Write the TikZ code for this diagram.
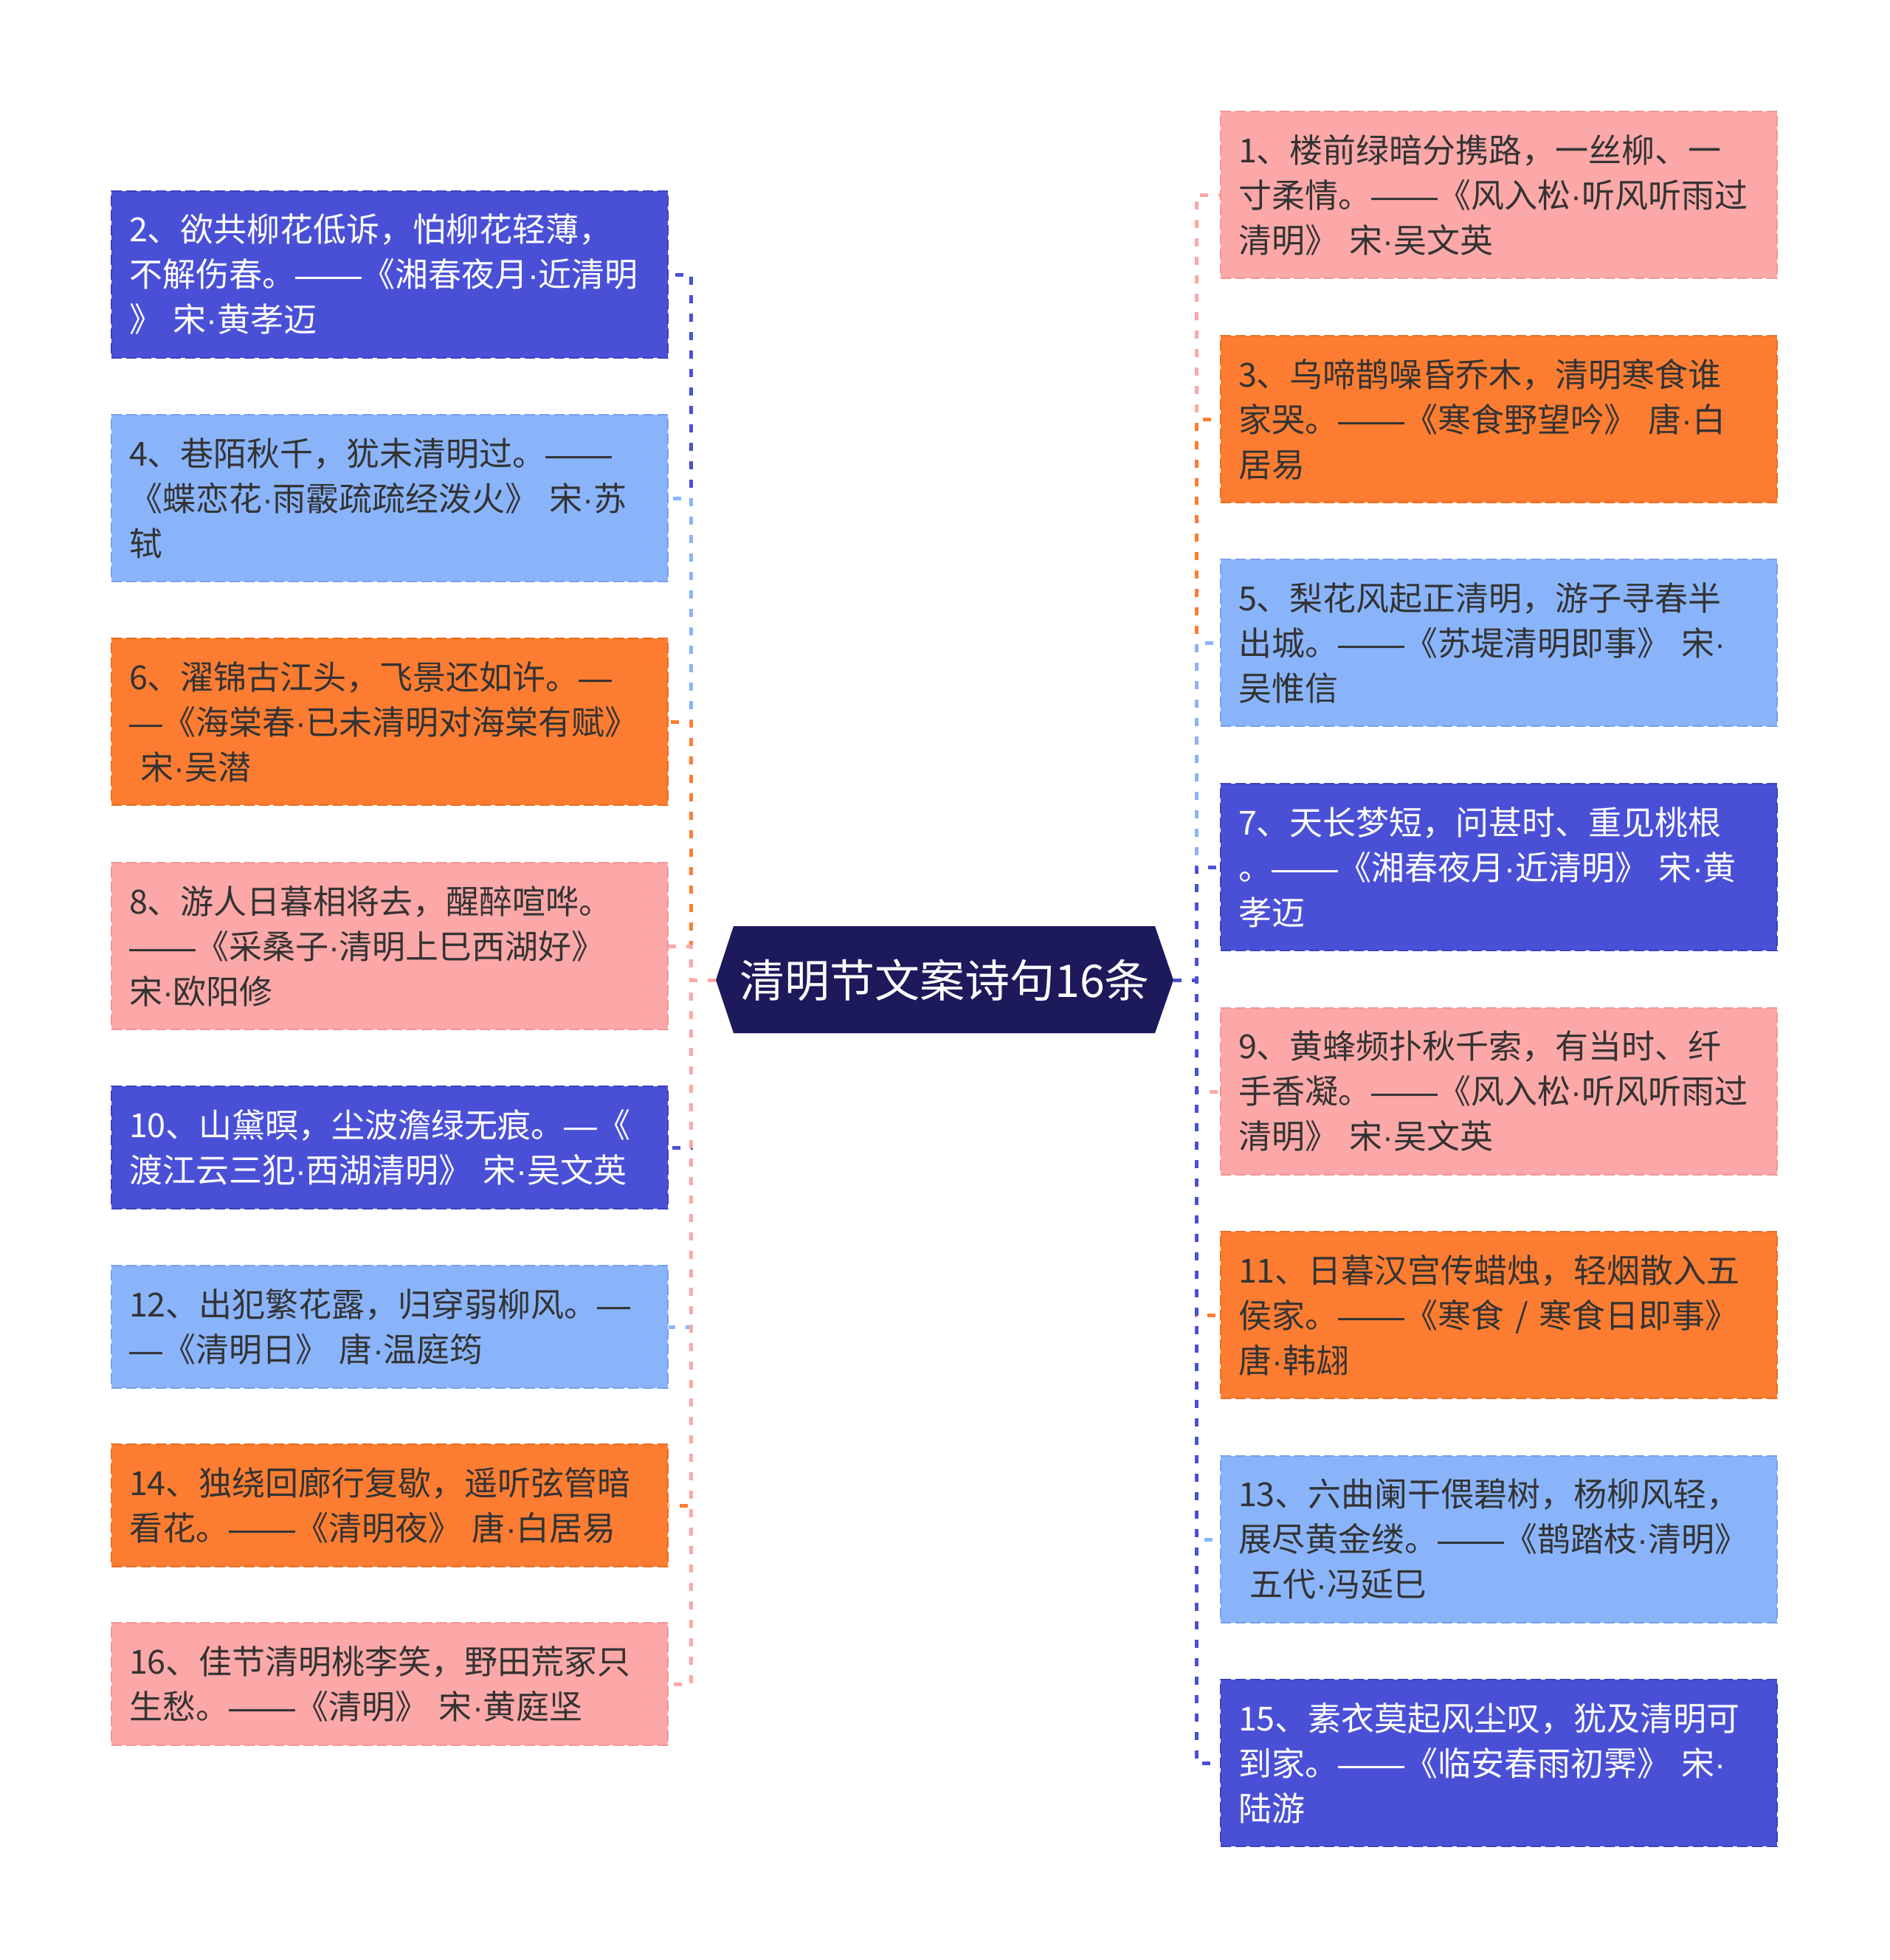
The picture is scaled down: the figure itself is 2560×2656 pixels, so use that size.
\documentclass[tikz,border=0pt]{standalone}
\usepackage{fontspec}
\newfontfamily\cjk{Noto Sans CJK SC}
\newfontfamily\latf{Liberation Sans}
\newcommand\zdot{{\latf ·}}
\newcommand\zdash{{\latf —}}
\definecolor{cpink}{RGB}{252,168,168}
\definecolor{cpinkd}{RGB}{240,150,150}
\definecolor{corange}{RGB}{252,125,50}
\definecolor{coranged}{RGB}{235,110,35}
\definecolor{clblue}{RGB}{138,180,250}
\definecolor{clblued}{RGB}{120,160,235}
\definecolor{cdblue}{RGB}{74,80,214}
\definecolor{cdblued}{RGB}{60,65,190}
\definecolor{cnavy}{RGB}{28,26,90}
\definecolor{ctext}{RGB}{51,51,51}
\begin{document}
\begin{tikzpicture}[x=0.5pt, y=-0.5pt,
 box/.style={rectangle, anchor=center, minimum width=377pt, inner xsep=12pt, inner ysep=0pt, text width=353pt, align=left, font=\cjk\fontsize{22.5pt}{30.5pt}\selectfont, line width=1pt, dash pattern=on 7pt off 3pt},
 tall/.style={minimum height=113pt},
 short/.style={minimum height=83pt},
 pinkb/.style={box, fill=cpink, draw=cpinkd, text=ctext},
 orangeb/.style={box, fill=corange, draw=coranged, text=ctext},
 lblueb/.style={box, fill=clblue, draw=clblued, text=ctext},
 dblueb/.style={box, fill=cdblue, draw=cdblued, text=white},
 conn/.style={line width=2.5pt, dash pattern=on 5.5pt off 7pt},
]
\useasboundingbox (0,0) rectangle (2560,2656);
% central node
\fill[cnavy] (970,1328) -- (994,1255) -- (1565,1255) -- (1590,1328) -- (1565,1400) -- (994,1400) -- cycle;
\node[minimum width=310pt, minimum height=72.5pt, inner sep=0pt, text=white, font=\cjk\fontsize{30.5pt}{36pt}\selectfont] (root) at (1280,1328) {清明节文案诗句16条};

% right boxes
\node[pinkb, tall] (b1) at (2031,264) {1、楼前绿暗分携路，一丝柳、一\\寸柔情。\zdash\zdash《风入松\zdot 听风听雨过\\清明》 宋\zdot 吴文英};
\node[orangeb, tall] (b3) at (2031,568) {3、乌啼鹊噪昏乔木，清明寒食谁\\家哭。\zdash\zdash《寒食野望吟》 唐\zdot 白\\居易};
\node[lblueb, tall] (b5) at (2031,871) {5、梨花风起正清明，游子寻春半\\出城。\zdash\zdash《苏堤清明即事》 宋\zdot\\吴惟信};
\node[dblueb, tall] (b7) at (2031,1175) {7、天长梦短，问甚时、重见桃根\\。\zdash\zdash《湘春夜月\zdot 近清明》 宋\zdot 黄\\孝迈};
\node[pinkb, tall] (b9) at (2031,1479) {9、黄蜂频扑秋千索，有当时、纤\\手香凝。\zdash\zdash《风入松\zdot 听风听雨过\\清明》 宋\zdot 吴文英};
\node[orangeb, tall] (b11) at (2031,1782) {11、日暮汉宫传蜡烛，轻烟散入五\\侯家。\zdash\zdash《寒食 / 寒食日即事》\\唐\zdot 韩翃};
\node[lblueb, tall] (b13) at (2031,2086) {13、六曲阑干偎碧树，杨柳风轻，\\展尽黄金缕。\zdash\zdash《鹊踏枝\zdot 清明》\\\hspace*{0.35em}五代\zdot 冯延巳};
\node[dblueb, tall] (b15) at (2031,2389) {15、素衣莫起风尘叹，犹及清明可\\到家。\zdash\zdash《临安春雨初霁》 宋\zdot\\陆游};

% left boxes
\node[dblueb, tall] (b2) at (528,372) {2、欲共柳花低诉，怕柳花轻薄，\\不解伤春。\zdash\zdash《湘春夜月\zdot 近清明\\》 宋\zdot 黄孝迈};
\node[lblueb, tall] (b4) at (528,675) {4、巷陌秋千，犹未清明过。\zdash\zdash\\《蝶恋花\zdot 雨霰疏疏经泼火》 宋\zdot 苏\\轼};
\node[orangeb, tall] (b6) at (528,978) {6、濯锦古江头，飞景还如许。\zdash\\\zdash《海棠春\zdot 已未清明对海棠有赋》\\\hspace*{0.35em}宋\zdot 吴潜};
\node[pinkb, tall] (b8) at (528,1282) {8、游人日暮相将去，醒醉喧哗。\\\zdash\zdash《采桑子\zdot 清明上巳西湖好》\\宋\zdot 欧阳修};
\node[dblueb, short] (b10) at (528,1555) {10、山黛暝，尘波澹绿无痕。\zdash《\\渡江云三犯\zdot 西湖清明》 宋\zdot 吴文英};
\node[lblueb, short] (b12) at (528,1798) {12、出犯繁花露，归穿弱柳风。\zdash\\\zdash《清明日》 唐\zdot 温庭筠};
\node[orangeb, short] (b14) at (528,2040) {14、独绕回廊行复歇，遥听弦管暗\\看花。\zdash\zdash《清明夜》 唐\zdot 白居易};
\node[pinkb, short] (b16) at (528,2282) {16、佳节清明桃李笑，野田荒冢只\\生愁。\zdash\zdash《清明》 宋\zdot 黄庭坚};

% connectors left
\draw[conn, cdblue] (root.west) -- ++(-33,0) |- (b2.east);
\draw[conn, clblue] (root.west) -- ++(-33,0) |- (b4.east);
\draw[conn, corange] (root.west) -- ++(-33,0) |- (b6.east);
\draw[conn, cpink] (root.west) -- ++(-33,0) |- (b8.east);
\draw[conn, cdblue] (root.west) -- ++(-33,0) |- (b10.east);
\draw[conn, clblue] (root.west) -- ++(-33,0) |- (b12.east);
\draw[conn, corange] (root.west) -- ++(-33,0) |- (b14.east);
\draw[conn, cpink] (root.west) -- ++(-33,0) |- (b16.east);
% connectors right
\draw[conn, cpink] (root.east) -- ++(31,0) |- (b1.west);
\draw[conn, corange] (root.east) -- ++(31,0) |- (b3.west);
\draw[conn, clblue] (root.east) -- ++(31,0) |- (b5.west);
\draw[conn, cdblue] (root.east) -- ++(31,0) |- (b7.west);
\draw[conn, cpink] (root.east) -- ++(31,0) |- (b9.west);
\draw[conn, corange] (root.east) -- ++(31,0) |- (b11.west);
\draw[conn, clblue] (root.east) -- ++(31,0) |- (b13.west);
\draw[conn, cdblue] (root.east) -- ++(31,0) |- (b15.west);
\end{tikzpicture}
\end{document}
